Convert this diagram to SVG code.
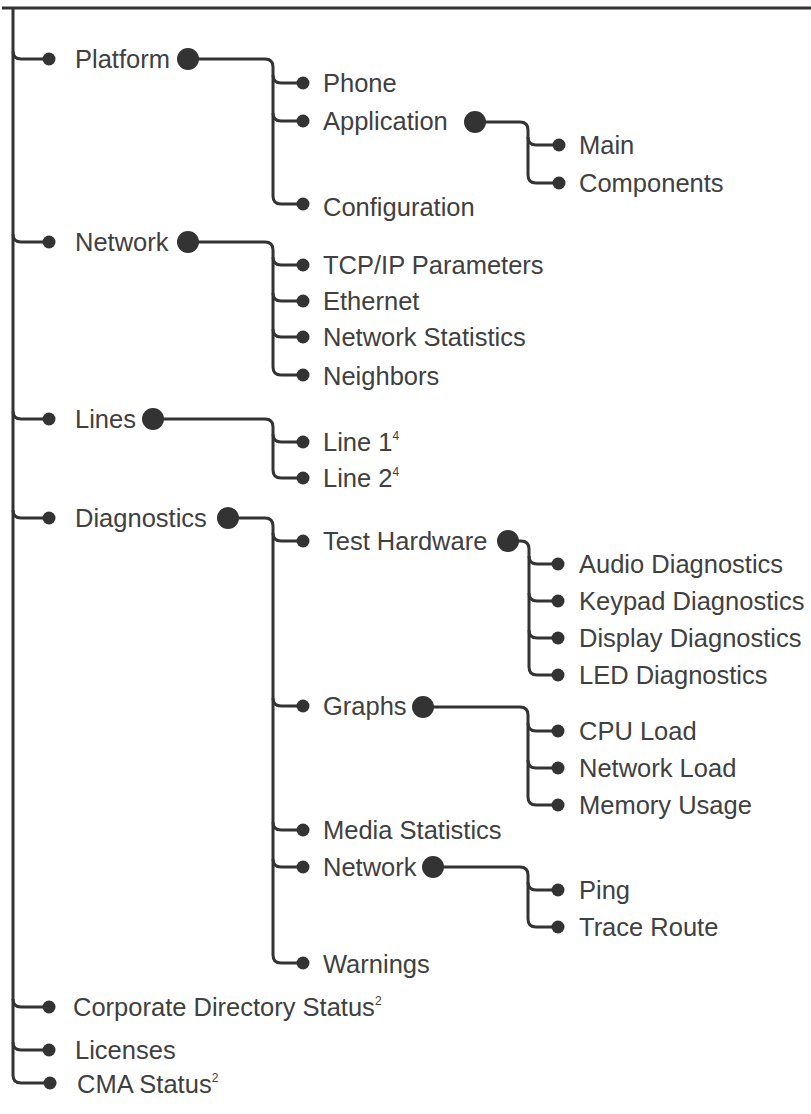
<svg xmlns="http://www.w3.org/2000/svg" width="811" height="1114" viewBox="0 0 811 1114">
<style>
.ln{fill:none;stroke:#333;stroke-width:3;stroke-linejoin:round}
.d{fill:#333}
text{font-family:"Liberation Sans",Arial,sans-serif;font-size:25.5px;fill:#404040}
.sup{font-size:12px}
</style>
<rect width="811" height="1114" fill="#fff"/>
<g id="connectors">
<path class="ln" d="M2,8 H811"/>
<path class="ln" d="M13,8 V1075 Q13,1083 21,1083 H50"/>
<path class="ln" d="M13,51 Q13,59 21,59 H49"/>
<path class="ln" d="M13,234 Q13,242 21,242 H49"/>
<path class="ln" d="M13,411 Q13,419 21,419 H49"/>
<path class="ln" d="M13,510 Q13,518 21,518 H49"/>
<path class="ln" d="M13,999 Q13,1007 21,1007 H49"/>
<path class="ln" d="M13,1042 Q13,1050 21,1050 H49"/>
<!-- Platform -->
<path class="ln" d="M188,59 H265 Q273,59 273,67 V196 Q273,204 281,204 H303"/>
<path class="ln" d="M273,75 Q273,83 281,83 H303"/>
<path class="ln" d="M273,113 Q273,121 281,121 H303"/>
<!-- Application -->
<path class="ln" d="M475,122 H520 Q528,122 528,130 V175 Q528,183 536,183 H559"/>
<path class="ln" d="M528,137 Q528,145 536,145 H559"/>
<!-- Network -->
<path class="ln" d="M188,242 H265 Q273,242 273,250 V367 Q273,375 281,375 H303"/>
<path class="ln" d="M273,257 Q273,265 281,265 H303"/>
<path class="ln" d="M273,293 Q273,301 281,301 H303"/>
<path class="ln" d="M273,329 Q273,337 281,337 H303"/>
<!-- Lines -->
<path class="ln" d="M153,419 H265 Q273,419 273,427 V470 Q273,478 281,478 H303"/>
<path class="ln" d="M273,434 Q273,442 281,442 H303"/>
<!-- Diagnostics -->
<path class="ln" d="M228,518 H265 Q273,518 273,526 V955 Q273,963 281,963 H303"/>
<path class="ln" d="M273,533 Q273,541 281,541 H303"/>
<path class="ln" d="M273,698 Q273,706 281,706 H303"/>
<path class="ln" d="M273,822 Q273,830 281,830 H303"/>
<path class="ln" d="M273,859 Q273,867 281,867 H303"/>
<!-- Test Hardware -->
<path class="ln" d="M508,541 H521 Q529,541 529,549 V667 Q529,675 537,675 H558"/>
<path class="ln" d="M529,556 Q529,564 537,564 H558"/>
<path class="ln" d="M529,593 Q529,601 537,601 H558"/>
<path class="ln" d="M529,630 Q529,638 537,638 H558"/>
<!-- Graphs -->
<path class="ln" d="M423,707 H520 Q528,707 528,715 V797 Q528,805 536,805 H558"/>
<path class="ln" d="M528,723 Q528,731 536,731 H558"/>
<path class="ln" d="M528,760 Q528,768 536,768 H558"/>
<!-- Network (diag) -->
<path class="ln" d="M433,867 H520 Q528,867 528,875 V919 Q528,927 536,927 H558"/>
<path class="ln" d="M528,882 Q528,890 536,890 H558"/>
</g>
<g id="n-platform"><circle class="d" cx="49" cy="59" r="6.5"/><text x="75" y="68">Platform</text><circle class="d" cx="188" cy="59" r="11"/></g>
<g id="n-phone"><circle class="d" cx="303" cy="83" r="6.5"/><text x="323" y="92">Phone</text></g>
<g id="n-application"><circle class="d" cx="303" cy="121" r="6.5"/><text x="323" y="130">Application</text><circle class="d" cx="475" cy="122" r="11"/></g>
<g id="n-main"><circle class="d" cx="559" cy="145" r="6.5"/><text x="579" y="154">Main</text></g>
<g id="n-components"><circle class="d" cx="559" cy="183" r="6.5"/><text x="579" y="192">Components</text></g>
<g id="n-configuration"><circle class="d" cx="303" cy="204" r="6.5"/><text x="323" y="216">Configuration</text></g>
<g id="n-network"><circle class="d" cx="49" cy="242" r="6.5"/><text x="75" y="251">Network</text><circle class="d" cx="188" cy="242" r="11"/></g>
<g id="n-tcpip"><circle class="d" cx="303" cy="265" r="6.5"/><text x="323" y="274">TCP/IP Parameters</text></g>
<g id="n-ethernet"><circle class="d" cx="303" cy="301" r="6.5"/><text x="323" y="310">Ethernet</text></g>
<g id="n-netstats"><circle class="d" cx="303" cy="337" r="6.5"/><text x="323" y="346">Network Statistics</text></g>
<g id="n-neighbors"><circle class="d" cx="303" cy="375" r="6.5"/><text x="323" y="385">Neighbors</text></g>
<g id="n-lines"><circle class="d" cx="49" cy="419" r="6.5"/><text x="75" y="428">Lines</text><circle class="d" cx="153" cy="419" r="11"/></g>
<g id="n-line1"><circle class="d" cx="303" cy="442" r="6.5"/><text x="323" y="451">Line 1<tspan class="sup" dy="-11">4</tspan></text></g>
<g id="n-line2"><circle class="d" cx="303" cy="478" r="6.5"/><text x="323" y="487">Line 2<tspan class="sup" dy="-11">4</tspan></text></g>
<g id="n-diagnostics"><circle class="d" cx="49" cy="518" r="6.5"/><text x="75" y="527">Diagnostics</text><circle class="d" cx="228" cy="518" r="11"/></g>
<g id="n-testhw"><circle class="d" cx="303" cy="541" r="6.5"/><text x="323" y="550">Test Hardware</text><circle class="d" cx="508" cy="541" r="11"/></g>
<g id="n-audio"><circle class="d" cx="558" cy="564" r="6.5"/><text x="579" y="573">Audio Diagnostics</text></g>
<g id="n-keypad"><circle class="d" cx="558" cy="601" r="6.5"/><text x="579" y="610">Keypad Diagnostics</text></g>
<g id="n-display"><circle class="d" cx="558" cy="638" r="6.5"/><text x="579" y="647">Display Diagnostics</text></g>
<g id="n-led"><circle class="d" cx="558" cy="675" r="6.5"/><text x="579" y="684">LED Diagnostics</text></g>
<g id="n-graphs"><circle class="d" cx="303" cy="706" r="6.5"/><text x="323" y="715">Graphs</text><circle class="d" cx="423" cy="707" r="11"/></g>
<g id="n-cpu"><circle class="d" cx="558" cy="731" r="6.5"/><text x="579" y="740">CPU Load</text></g>
<g id="n-netload"><circle class="d" cx="558" cy="768" r="6.5"/><text x="579" y="777">Network Load</text></g>
<g id="n-memory"><circle class="d" cx="558" cy="805" r="6.5"/><text x="579" y="814">Memory Usage</text></g>
<g id="n-media"><circle class="d" cx="303" cy="830" r="6.5"/><text x="323" y="839">Media Statistics</text></g>
<g id="n-network2"><circle class="d" cx="303" cy="867" r="6.5"/><text x="323" y="876">Network</text><circle class="d" cx="433" cy="867" r="11"/></g>
<g id="n-ping"><circle class="d" cx="558" cy="890" r="6.5"/><text x="579" y="899">Ping</text></g>
<g id="n-trace"><circle class="d" cx="558" cy="927" r="6.5"/><text x="579" y="936">Trace Route</text></g>
<g id="n-warnings"><circle class="d" cx="303" cy="963" r="6.5"/><text x="323" y="973">Warnings</text></g>
<g id="n-corp"><circle class="d" cx="49" cy="1007" r="6.5"/><text x="73" y="1016">Corporate Directory Status<tspan class="sup" dy="-11">2</tspan></text></g>
<g id="n-licenses"><circle class="d" cx="49" cy="1050" r="6.5"/><text x="75" y="1059">Licenses</text></g>
<g id="n-cma"><circle class="d" cx="50" cy="1083" r="6.5"/><text x="77" y="1093">CMA Status<tspan class="sup" dy="-11">2</tspan></text></g>
</svg>
